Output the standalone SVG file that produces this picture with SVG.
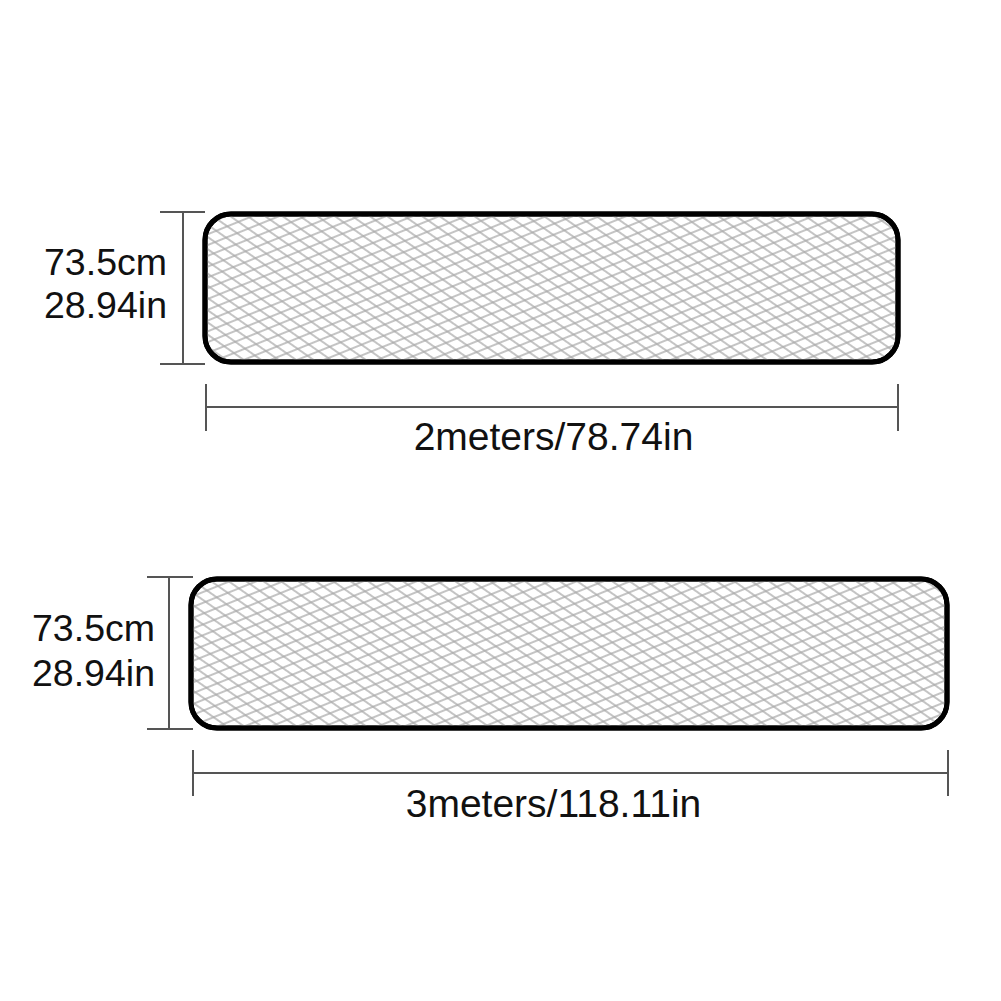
<svg xmlns="http://www.w3.org/2000/svg" width="1001" height="1001" viewBox="0 0 1001 1001">
<style>
.lbl{font-family:"Liberation Sans",Arial,sans-serif;font-size:37.5px;fill:#111}
.wide{font-size:39px}
.dim{stroke:#555;stroke-width:2;fill:none}
.mat{stroke:#000;stroke-width:5}
</style>
<defs>
<pattern id="hA" patternUnits="userSpaceOnUse" width="10" height="10" patternTransform="rotate(-22)">
<line x1="0" y1="5" x2="10" y2="5" stroke="#aaa" stroke-width="1.4"/>
</pattern>
<pattern id="hB" patternUnits="userSpaceOnUse" width="10" height="10" patternTransform="rotate(35)">
<line x1="0" y1="5" x2="10" y2="5" stroke="#aaa" stroke-width="1.4"/>
</pattern>
</defs>
<rect width="1001" height="1001" fill="#fff"/>
<g id="mat1">
<rect x="205" y="214" width="693" height="148" rx="26" fill="#fff" class="mat"/>
<rect x="205" y="214" width="693" height="148" rx="26" fill="url(#hA)"/>
<rect x="205" y="214" width="693" height="148" rx="26" fill="url(#hB)"/>
<rect x="205" y="214" width="693" height="148" rx="26" fill="none" class="mat"/>
</g>
<g id="mat2">
<rect x="191" y="579" width="756" height="149" rx="26" fill="#fff" class="mat"/>
<rect x="191" y="579" width="756" height="149" rx="26" fill="url(#hA)"/>
<rect x="191" y="579" width="756" height="149" rx="26" fill="url(#hB)"/>
<rect x="191" y="579" width="756" height="149" rx="26" fill="none" class="mat"/>
</g>
<g id="dimensions">
<path class="dim" d="M160 212H205M160 364H205M183 212V364"/>
<path class="dim" d="M206 384V431M898 384V431M206 407H898"/>
<path class="dim" d="M147 577H193M147 729H193M169 577V729"/>
<path class="dim" d="M193 750V796M948 750V796M193 773H948"/>
</g>
<g id="labels">
<text class="lbl" x="167" y="275" text-anchor="end">73.5cm</text>
<text class="lbl" x="167" y="318" text-anchor="end">28.94in</text>
<text class="lbl wide" x="553.5" y="450" text-anchor="middle">2meters/78.74in</text>
<text class="lbl" x="155" y="641" text-anchor="end">73.5cm</text>
<text class="lbl" x="155" y="686" text-anchor="end">28.94in</text>
<text class="lbl wide" x="553.5" y="817" text-anchor="middle">3meters/118.11in</text>
</g>
</svg>
